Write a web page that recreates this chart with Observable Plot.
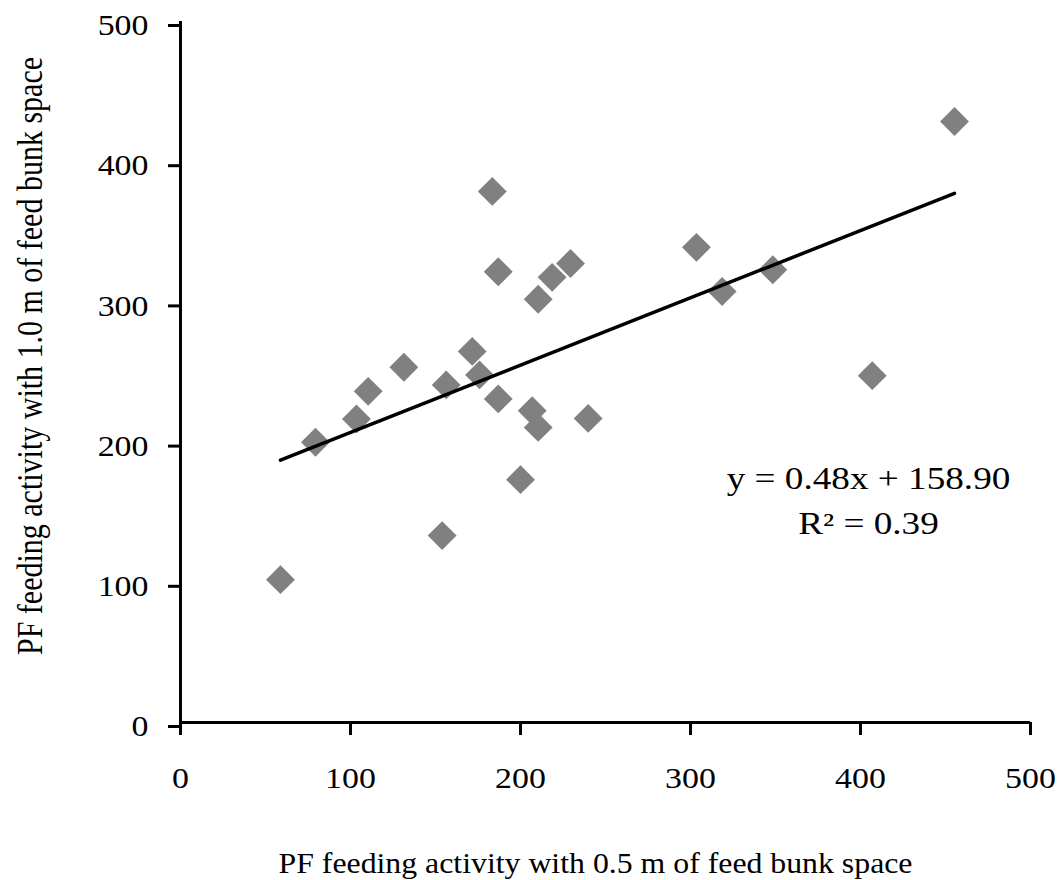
<!DOCTYPE html>
<html>
<head>
<meta charset="utf-8">
<script src="https://cdn.jsdelivr.net/npm/d3@7"></script>
<script src="https://cdn.jsdelivr.net/npm/@observablehq/plot@0.6"></script>
<style>
  html, body { margin: 0; padding: 0; background: white; }
  #chart svg { display: block; }
</style>
</head>
<body>
<div id="chart"></div>
<script>
// Data
const xValues = [58.8, 79.4, 103.5, 110.4, 131.4, 153.9, 156.3, 171.6, 175.9, 183.4, 186.9, 186.9,
                 200.0, 206.9, 210.4, 210.4, 218.6, 229.4, 239.8, 303.5, 318.6, 348.4, 406.9, 455.3];
const yValues = [101.9, 199.9, 216.5, 236.2, 253.4, 133.3, 240.8, 264.7, 247.9, 378.8, 230.8, 321.5,
                 173.2, 222.4, 210.5, 301.9, 317.5, 327.4, 216.9, 338.9, 307.4, 322.9, 247.4, 428.7];
const xTicks = [0, 100, 200, 300, 400, 500];
const yTicks = [0, 100, 200, 300, 400, 500];
const slope = 0.48;
const intercept = 158.90;
const rSquared = 0.39;
const xTitle = "PF feeding activity with 0.5 m of feed bunk space";
const yTitle = "PF feeding activity with 1.0 m of feed bunk space";
const equationText = `y = ${slope.toFixed(2)}x + ${intercept.toFixed(2)}\nR\u00B2 = ${rSquared.toFixed(2)}`;

const points = xValues.map((x, i) => ({x, y: yValues[i]}));
const xMin = d3.min(xValues), xMax = d3.max(xValues);
const trend = [xMin, xMax].map(x => ({x, y: slope * x + intercept}));

const chart = Plot.plot({
  width: 1064,
  height: 880,
  marginLeft: 180,
  marginRight: 34,
  marginTop: 21,
  marginBottom: 158,
  style: {fontFamily: "'Liberation Serif', 'Times New Roman', serif", fontSize: "30px", color: "black", background: "white"},
  x: {domain: [0, 500]},
  y: {domain: [0, 500]},
  marks: [
    Plot.dot(points, {x: "x", y: "y", symbol: "diamond2", r: 13, fill: "#808080", stroke: "none"}),
    Plot.line(trend, {x: "x", y: "y", stroke: "black", strokeWidth: 3.5}),
    Plot.ruleY([0], {stroke: "black", strokeWidth: 3}),
    Plot.ruleX([0], {stroke: "black", strokeWidth: 3}),
    Plot.axisX({ticks: xTicks, tickSize: 13, tickPadding: 31, strokeWidth: 3, fontSize: 30, label: null, tickFormat: d => String(d), className: "xticks"}),
    Plot.axisY({ticks: yTicks, tickSize: 12, tickPadding: 20, strokeWidth: 3, fontSize: 30, label: null, dy: 4, tickFormat: d => String(d), className: "yticks"}),
    Plot.text([xTitle], {frameAnchor: "bottom", lineAnchor: "bottom", dy: 150, dx: -10, fontSize: 30, fill: "black", className: "xtitle"}),
    Plot.text([yTitle], {frameAnchor: "left", rotate: -90, lineAnchor: "middle", textAnchor: "middle", dx: -150, dy: -16, fontSize: 30, fill: "black", className: "ytitle"}),
    Plot.text([equationText], {frameAnchor: "top-left", dx: 688, dy: 512, lineAnchor: "bottom", textAnchor: "middle", lineHeight: 1.45, fontSize: 31, fill: "black", className: "eq"})
  ]
});

// The reference's lettering is slightly stretched horizontally; mimic that.
function stretch(selector, sx, sy) {
  chart.querySelectorAll(selector).forEach(t => {
    const tr = t.getAttribute("transform") || "";
    t.setAttribute("transform", `${tr} scale(${sx},${sy})`);
  });
}
stretch('g[aria-label="x-axis tick label"] text', 1.13, 1);
stretch('g[aria-label="y-axis tick label"] text', 1.13, 1);
stretch('g.eq text', 1.2, 1);
stretch('g.xtitle text', 1.06, 1);
stretch('g.ytitle text', 1, 1.2);

document.getElementById("chart").appendChild(chart);
</script>
</body>
</html>
